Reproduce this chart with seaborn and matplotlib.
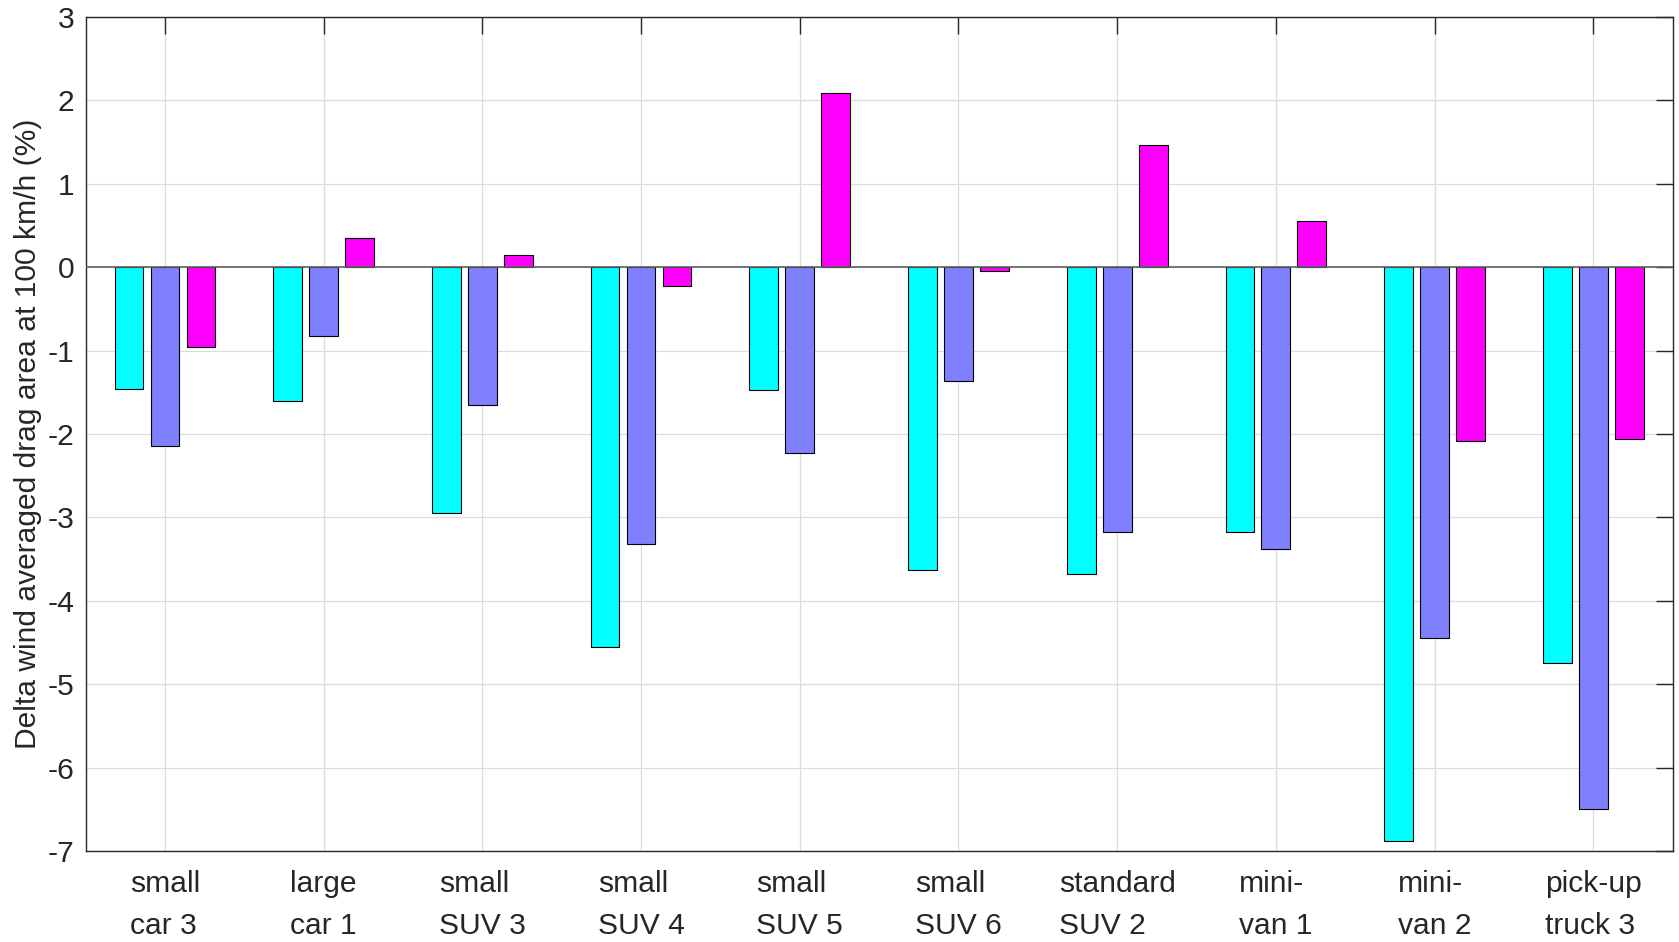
import matplotlib
matplotlib.use("Agg")
import matplotlib.pyplot as plt
import seaborn as sns
import pandas as pd

vehicles = ["small\ncar 3", "large\ncar 1", "small\nSUV 3", "small\nSUV 4", "small\nSUV 5",
            "small\nSUV 6", "standard\nSUV 2", "mini-\nvan 1", "mini-\nvan 2", "pick-up\ntruck 3"]
series_names = ["Series 1", "Series 2", "Series 3"]
series1 = [-1.46, -1.60, -2.95, -4.56, -1.47, -3.63, -3.68, -3.17, -6.88, -4.74]
series2 = [-2.15, -0.83, -1.65, -3.32, -2.23, -1.36, -3.17, -3.38, -4.45, -6.50]
series3 = [-0.96, 0.35, 0.15, -0.22, 2.09, -0.04, 1.46, 0.55, -2.08, -2.06]
colors = ["#00FFFF", "#8080FF", "#FF00FF"]
yticks = [-7, -6, -5, -4, -3, -2, -1, 0, 1, 2, 3]
ylabel = "Delta wind averaged drag area at 100 km/h (%)"

rows = []
for name, vals in zip(series_names, [series1, series2, series3]):
    for v, val in zip(vehicles, vals):
        rows.append({"vehicle": v, "series": name, "delta": val})
df = pd.DataFrame(rows)

sns.set_style("white")
plt.rcParams["font.family"] = ["Liberation Sans", "DejaVu Sans"]
plt.rcParams["text.color"] = "#262626"

fig = plt.figure(figsize=(16.79, 9.42), dpi=100)
ax = fig.add_axes([0.051, 0.0966, 0.9452, 0.8854])

sns.barplot(data=df, x="vehicle", y="delta", hue="series", order=vehicles,
            hue_order=series_names, palette=colors, width=0.68, gap=0.2,
            edgecolor="black", linewidth=0.8, errorbar=None, legend=False,
            saturation=1, ax=ax, zorder=3)

ax.axhline(0, color="#606060", lw=1.2, zorder=4)
ax.set_ylim(-7, 3)
ax.set_xlim(-0.5, len(vehicles) - 0.5)
ax.set_yticks(yticks)
ax.set_yticklabels([str(t) for t in yticks])
ax.set_xlabel("")
ax.set_ylabel(ylabel, fontsize=21.6, color="#262626", labelpad=4)
ax.grid(True, color="#dcdcdc", lw=0.9, zorder=0)
ax.set_axisbelow(True)
for s in ax.spines.values():
    s.set_color("#262626")
    s.set_linewidth(1.0)
    s.set_visible(True)
ax.tick_params(axis="both", direction="in", length=12, width=1.0, color="#262626",
               labelsize=21.6, labelcolor="#262626", top=True, right=True)
ax.tick_params(axis="x", pad=14)
ax.tick_params(axis="y", pad=8)
for lab in ax.get_xticklabels():
    lab.set_linespacing(1.6)
    lab.set_multialignment("left")

fig.savefig("out.png", dpi=100, facecolor="white")
